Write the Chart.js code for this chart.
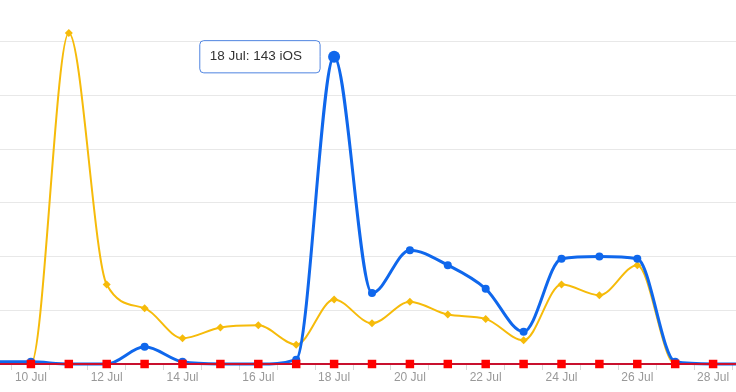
<!DOCTYPE html>
<html>
<head>
<meta charset="utf-8">
<script src="https://cdn.jsdelivr.net/npm/chart.js@4/dist/chart.umd.min.js"></script>
<style>
  html, body { margin: 0; padding: 0; background: #fff; }
  #frame { position: relative; width: 736px; height: 392px; overflow: hidden; background: #fff; }
  #wrap { position: absolute; left: -7px; top: -12px; width: 758px; height: 404px; }
</style>
</head>
<body>
<div id="frame"><div id="wrap"><canvas id="c"></canvas></div></div>
<script>
const days = ['9 Jul','10 Jul','11 Jul','12 Jul','13 Jul','14 Jul','15 Jul','16 Jul','17 Jul','18 Jul',
              '19 Jul','20 Jul','21 Jul','22 Jul','23 Jul','24 Jul','25 Jul','26 Jul','27 Jul','28 Jul','29 Jul'];
const shownTicks = ['10 Jul','12 Jul','14 Jul','16 Jul','18 Jul','20 Jul','22 Jul','24 Jul','26 Jul','28 Jul'];
const iosValues     = [1, 1, 0, 0, 8, 1, 0, 0, 2, 143, 33, 53, 46, 35, 15, 49, 50, 49, 1, 0, 0];
const androidValues = [0, 0, 154, 37, 26, 12, 17, 18, 9, 30, 19, 29, 23, 21, 11, 37, 32, 46, 0, 0, 0];
const otherValues   = [0, 0, 0, 0, 0, 0, 0, 0, 0, 0, 0, 0, 0, 0, 0, 0, 0, 0, 0, 0, 0];
const yTicks = [0, 25, 50, 75, 100, 125, 150, 175];
const highlightDay = '18 Jul';

const FONT = "'Liberation Sans', Arial, Helvetica, sans-serif";
const CLIP = { left: 0, right: 0, top: 20, bottom: 12 };

const chart = new Chart(document.getElementById('c'), {
  type: 'line',
  data: {
    labels: days,
    datasets: [
      {
        label: 'Other',
        data: otherValues,
        clip: CLIP,
        borderColor: '#c8102e',
        borderWidth: 2,
        backgroundColor: '#ff0000',
        pointStyle: 'rect',
        pointRadius: 6,
        pointBorderWidth: 0,
        pointBackgroundColor: '#ff0000',
        tension: 0
      },
      {
        label: 'iOS',
        data: iosValues,
        clip: CLIP,
        borderColor: '#0f67ec',
        borderWidth: 3,
        pointStyle: 'circle',
        pointRadius: 4,
        pointHoverRadius: 6,
        pointBorderWidth: 0,
        pointHoverBorderWidth: 0,
        pointBackgroundColor: '#0f67ec',
        pointHoverBackgroundColor: '#0f67ec',
        cubicInterpolationMode: 'monotone'
      },
      {
        label: 'Android',
        data: androidValues,
        clip: CLIP,
        borderColor: '#f6bb0a',
        borderWidth: 2,
        pointStyle: 'rectRot',
        pointRadius: 4,
        pointBorderWidth: 0,
        pointBackgroundColor: '#f6bb0a',
        cubicInterpolationMode: 'monotone'
      }
    ]
  },
  options: {
    responsive: true,
    maintainAspectRatio: false,
    animation: false,
    events: [],
    layout: { padding: 0, autoPadding: false },
    plugins: {
      legend: { display: false },
      tooltip: {
        enabled: true,
        backgroundColor: '#ffffff',
        borderColor: '#4f84e0',
        borderWidth: 1,
        cornerRadius: 4,
        bodyColor: '#333333',
        bodyFont: { family: FONT, size: 13.5 },
        padding: { top: 8, bottom: 8, left: 10, right: 18 },
        displayColors: false,
        caretSize: 0,
        caretPadding: 14,
        xAlign: 'right',
        yAlign: 'center',
        callbacks: {
          title: () => '',
          label: (ctx) => ctx.label + ': ' + ctx.parsed.y + ' ' + ctx.dataset.label
        }
      }
    },
    scales: {
      x: {
        type: 'category',
        offset: false,
        border: { display: false },
        grid: {
          offset: true,
          drawOnChartArea: false,
          drawTicks: true,
          tickLength: 6,
          color: '#d8d8d8'
        },
        ticks: {
          autoSkip: false,
          maxRotation: 0,
          padding: 0,
          color: '#999999',
          font: { family: FONT, size: 12 },
          callback: function (value) {
            const l = this.getLabelForValue(value);
            return shownTicks.includes(l) ? l : '';
          }
        },
        afterFit: (scale) => { scale.height = 28; }
      },
      y: {
        min: yTicks[0],
        max: yTicks[yTicks.length - 1],
        border: { display: false },
        grid: { color: '#e8e8e8', drawTicks: false },
        ticks: { display: false, stepSize: 25 },
        afterBuildTicks: (scale) => { scale.ticks = yTicks.map(v => ({ value: v })); },
        afterFit: (scale) => { scale.width = 0; }
      }
    }
  }
});

const idx = days.indexOf(highlightDay);
const active = [{ datasetIndex: 1, index: idx }];
chart.setActiveElements(active);
const pt = chart.getDatasetMeta(1).data[idx];
chart.tooltip.setActiveElements(active, { x: pt.x, y: pt.y });
chart.update();
</script>
</body>
</html>
